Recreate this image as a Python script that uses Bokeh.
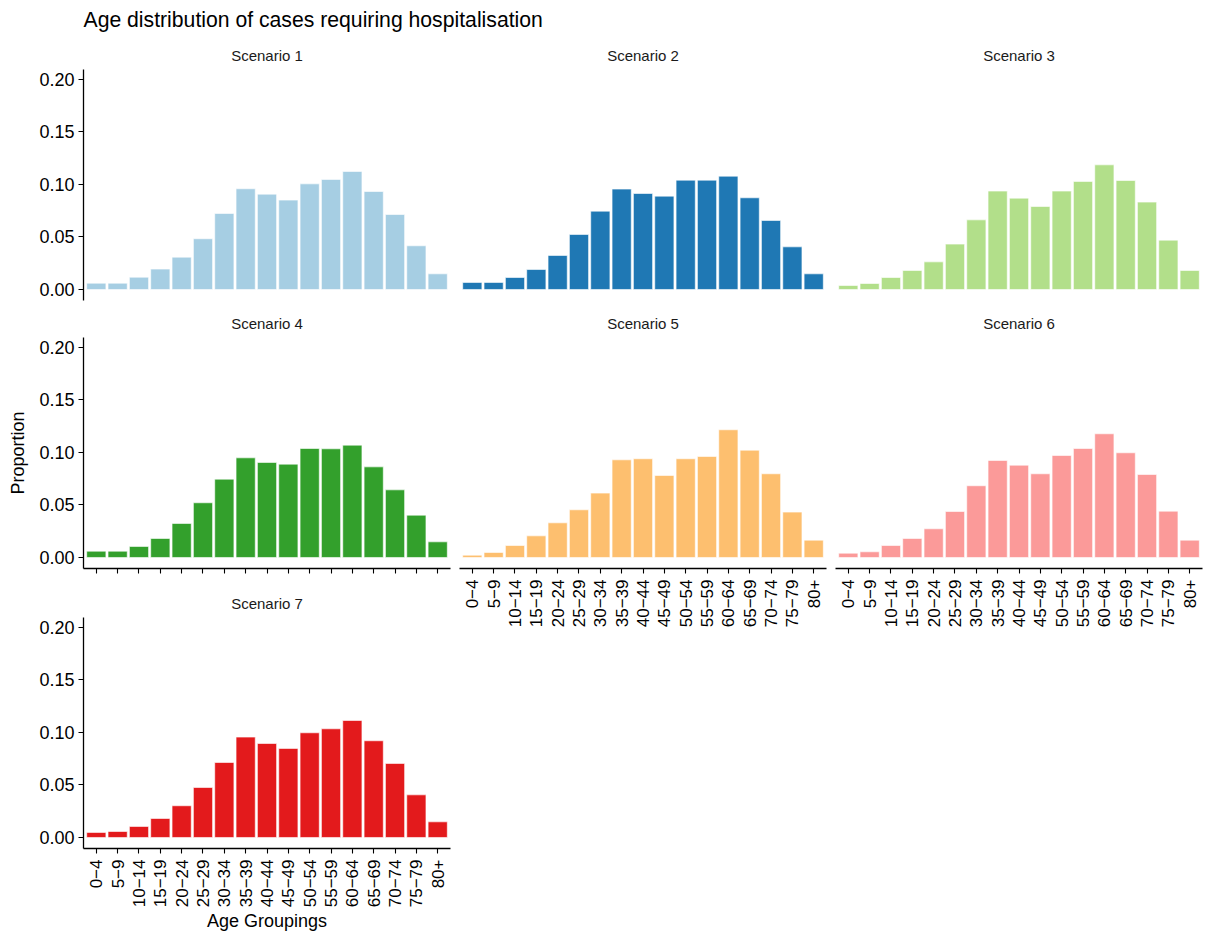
import math
from bokeh.plotting import figure
from bokeh.models import Range1d, FixedTicker, PrintfTickFormatter
from bokeh.layouts import column, row
from bokeh.embed import file_html
from bokeh.resources import INLINE

# ---------------- data ----------------
age_groups = ["0−4", "5−9", "10−14", "15−19", "20−24", "25−29", "30−34", "35−39",
              "40−44", "45−49", "50−54", "55−59", "60−64", "65−69", "70−74", "75−79", "80+"]
scenario_names = ["Scenario 1", "Scenario 2", "Scenario 3", "Scenario 4",
                  "Scenario 5", "Scenario 6", "Scenario 7"]
scenario_colors = ["#A6CEE3", "#1F78B4", "#B2DF8A", "#33A02C", "#FDBF6F", "#FB9A99", "#E31A1C"]

scenario_1 = [0.0060, 0.0060, 0.0117, 0.0194, 0.0308, 0.0483, 0.0724, 0.0959, 0.0908,
              0.0851, 0.1006, 0.1048, 0.1124, 0.0933, 0.0714, 0.0416, 0.0149]
scenario_2 = [0.0067, 0.0067, 0.0114, 0.0190, 0.0324, 0.0524, 0.0746, 0.0956, 0.0914,
              0.0889, 0.1041, 0.1041, 0.1079, 0.0873, 0.0657, 0.0406, 0.0149]
scenario_3 = [0.0038, 0.0057, 0.0114, 0.0181, 0.0263, 0.0432, 0.0663, 0.0937, 0.0870,
              0.0790, 0.0937, 0.1029, 0.1187, 0.1038, 0.0832, 0.0470, 0.0181]
scenario_4 = [0.0060, 0.0060, 0.0105, 0.0181, 0.0324, 0.0521, 0.0746, 0.0949, 0.0905,
              0.0889, 0.1038, 0.1035, 0.1070, 0.0863, 0.0644, 0.0403, 0.0149]
scenario_5 = [0.0022, 0.0048, 0.0114, 0.0206, 0.0330, 0.0454, 0.0613, 0.0930, 0.0940,
              0.0781, 0.0940, 0.0962, 0.1216, 0.1022, 0.0797, 0.0432, 0.0165]
scenario_6 = [0.0041, 0.0054, 0.0114, 0.0181, 0.0273, 0.0438, 0.0683, 0.0924, 0.0879,
              0.0797, 0.0971, 0.1038, 0.1178, 0.0997, 0.0790, 0.0441, 0.0165]
scenario_7 = [0.0048, 0.0057, 0.0105, 0.0181, 0.0302, 0.0476, 0.0714, 0.0956, 0.0895,
              0.0848, 0.0997, 0.1035, 0.1114, 0.0921, 0.0705, 0.0406, 0.0149]
scenario_values = [scenario_1, scenario_2, scenario_3, scenario_4,
                   scenario_5, scenario_6, scenario_7]

y_ticks = [0.00, 0.05, 0.10, 0.15, 0.20]
title_text = "Age distribution of cases requiring hospitalisation"
x_title = "Age Groupings"
y_title = "Proportion"

# ---------------- styling ----------------
FONT = "Liberation Sans"
N = len(age_groups)
xpos = list(range(1, N + 1))
X0, X1 = 0.4, N + 0.6
Y0, Y1 = -0.0105, 0.2095
FW, FH = 367, 231
TOP = 31


def style_axis(ax, ticks):
    ax.ticker = FixedTicker(ticks=ticks, minor_ticks=[])
    ax.axis_line_color = "black"
    ax.axis_line_width = 1.3
    ax.major_tick_line_color = "black"
    ax.major_tick_line_width = 1.1
    ax.major_tick_out = 5
    ax.major_tick_in = 0
    ax.minor_tick_out = 0
    ax.minor_tick_in = 0
    ax.axis_label_text_font = FONT
    ax.axis_label_text_font_size = "18px"
    ax.axis_label_text_font_style = "normal"
    ax.axis_label_text_color = "black"


def panel(k, left, right, bottom, show_y, x_mode):
    p = figure(frame_width=FW, frame_height=FH,
               x_range=Range1d(X0, X1), y_range=Range1d(Y0, Y1),
               output_backend="svg", toolbar_location=None,
               min_border_left=left, min_border_right=right,
               min_border_top=TOP, min_border_bottom=bottom,
               title=scenario_names[k])
    p.title.align = "center"
    p.title.text_font = FONT
    p.title.text_font_size = "15px"
    p.title.text_font_style = "normal"
    p.title.text_color = "#1A1A1A"
    p.title.standoff = 11
    p.outline_line_color = None
    p.xgrid.visible = False
    p.ygrid.visible = False
    p.background_fill_color = "white"
    p.border_fill_color = "white"

    p.vbar(x=xpos, top=scenario_values[k], bottom=0, width=0.9,
           fill_color=scenario_colors[k], line_color="white", line_width=0.6)

    yax = p.yaxis[0]
    if show_y:
        style_axis(yax, y_ticks)
        yax.formatter = PrintfTickFormatter(format="%.2f")
        yax.major_label_text_font = FONT
        yax.major_label_text_font_size = "18px"
        yax.major_label_text_color = "black"
        yax.major_label_standoff = 4
    else:
        yax.visible = False

    xax = p.xaxis[0]
    if x_mode == "none":
        xax.visible = False
    else:
        style_axis(xax, xpos)
        xax.major_label_overrides = {x: lab for x, lab in zip(xpos, age_groups)}
        if x_mode == "ticks":
            xax.major_label_text_color = None
            xax.major_label_text_font_size = "10px"
            xax.major_label_standoff = 0
        else:
            xax.major_label_orientation = math.pi / 2
            xax.major_label_text_font = FONT
            xax.major_label_text_font_size = "17px"
            xax.major_label_text_color = "black"
            xax.major_label_standoff = 6
    return p


# header with main title
header = figure(width=1206, height=38, x_range=Range1d(0, 1), y_range=Range1d(0, 1),
                output_backend="svg", toolbar_location=None,
                min_border_left=83, min_border_right=0, min_border_top=30, min_border_bottom=0,
                title=title_text)
header.title.align = "left"
header.title.text_font = FONT
header.title.text_font_size = "21.2px"
header.title.text_font_style = "normal"
header.title.text_color = "black"
header.title.standoff = 0
header.axis.visible = False
header.xgrid.visible = False
header.ygrid.visible = False
header.outline_line_color = None

p1 = panel(0, 83, 4, 6, True, "none")
p4 = panel(3, 83, 4, 18, True, "ticks")
p7 = panel(6, 83, 4, 85, True, "labels")
p2 = panel(1, 5, 4, 6, False, "none")
p5 = panel(4, 5, 4, 70, False, "labels")
p3 = panel(2, 5, 4, 6, False, "none")
p6 = panel(5, 5, 4, 70, False, "labels")

p4.yaxis[0].axis_label = y_title
p4.yaxis[0].axis_label_standoff = 8
p7.xaxis[0].axis_label = x_title
p7.xaxis[0].axis_label_standoff = 1

layout = column(header,
                row(column(p1, p4, p7), column(p2, p5), column(p3, p6)))

open("out.html", "w").write(file_html(layout, INLINE))
